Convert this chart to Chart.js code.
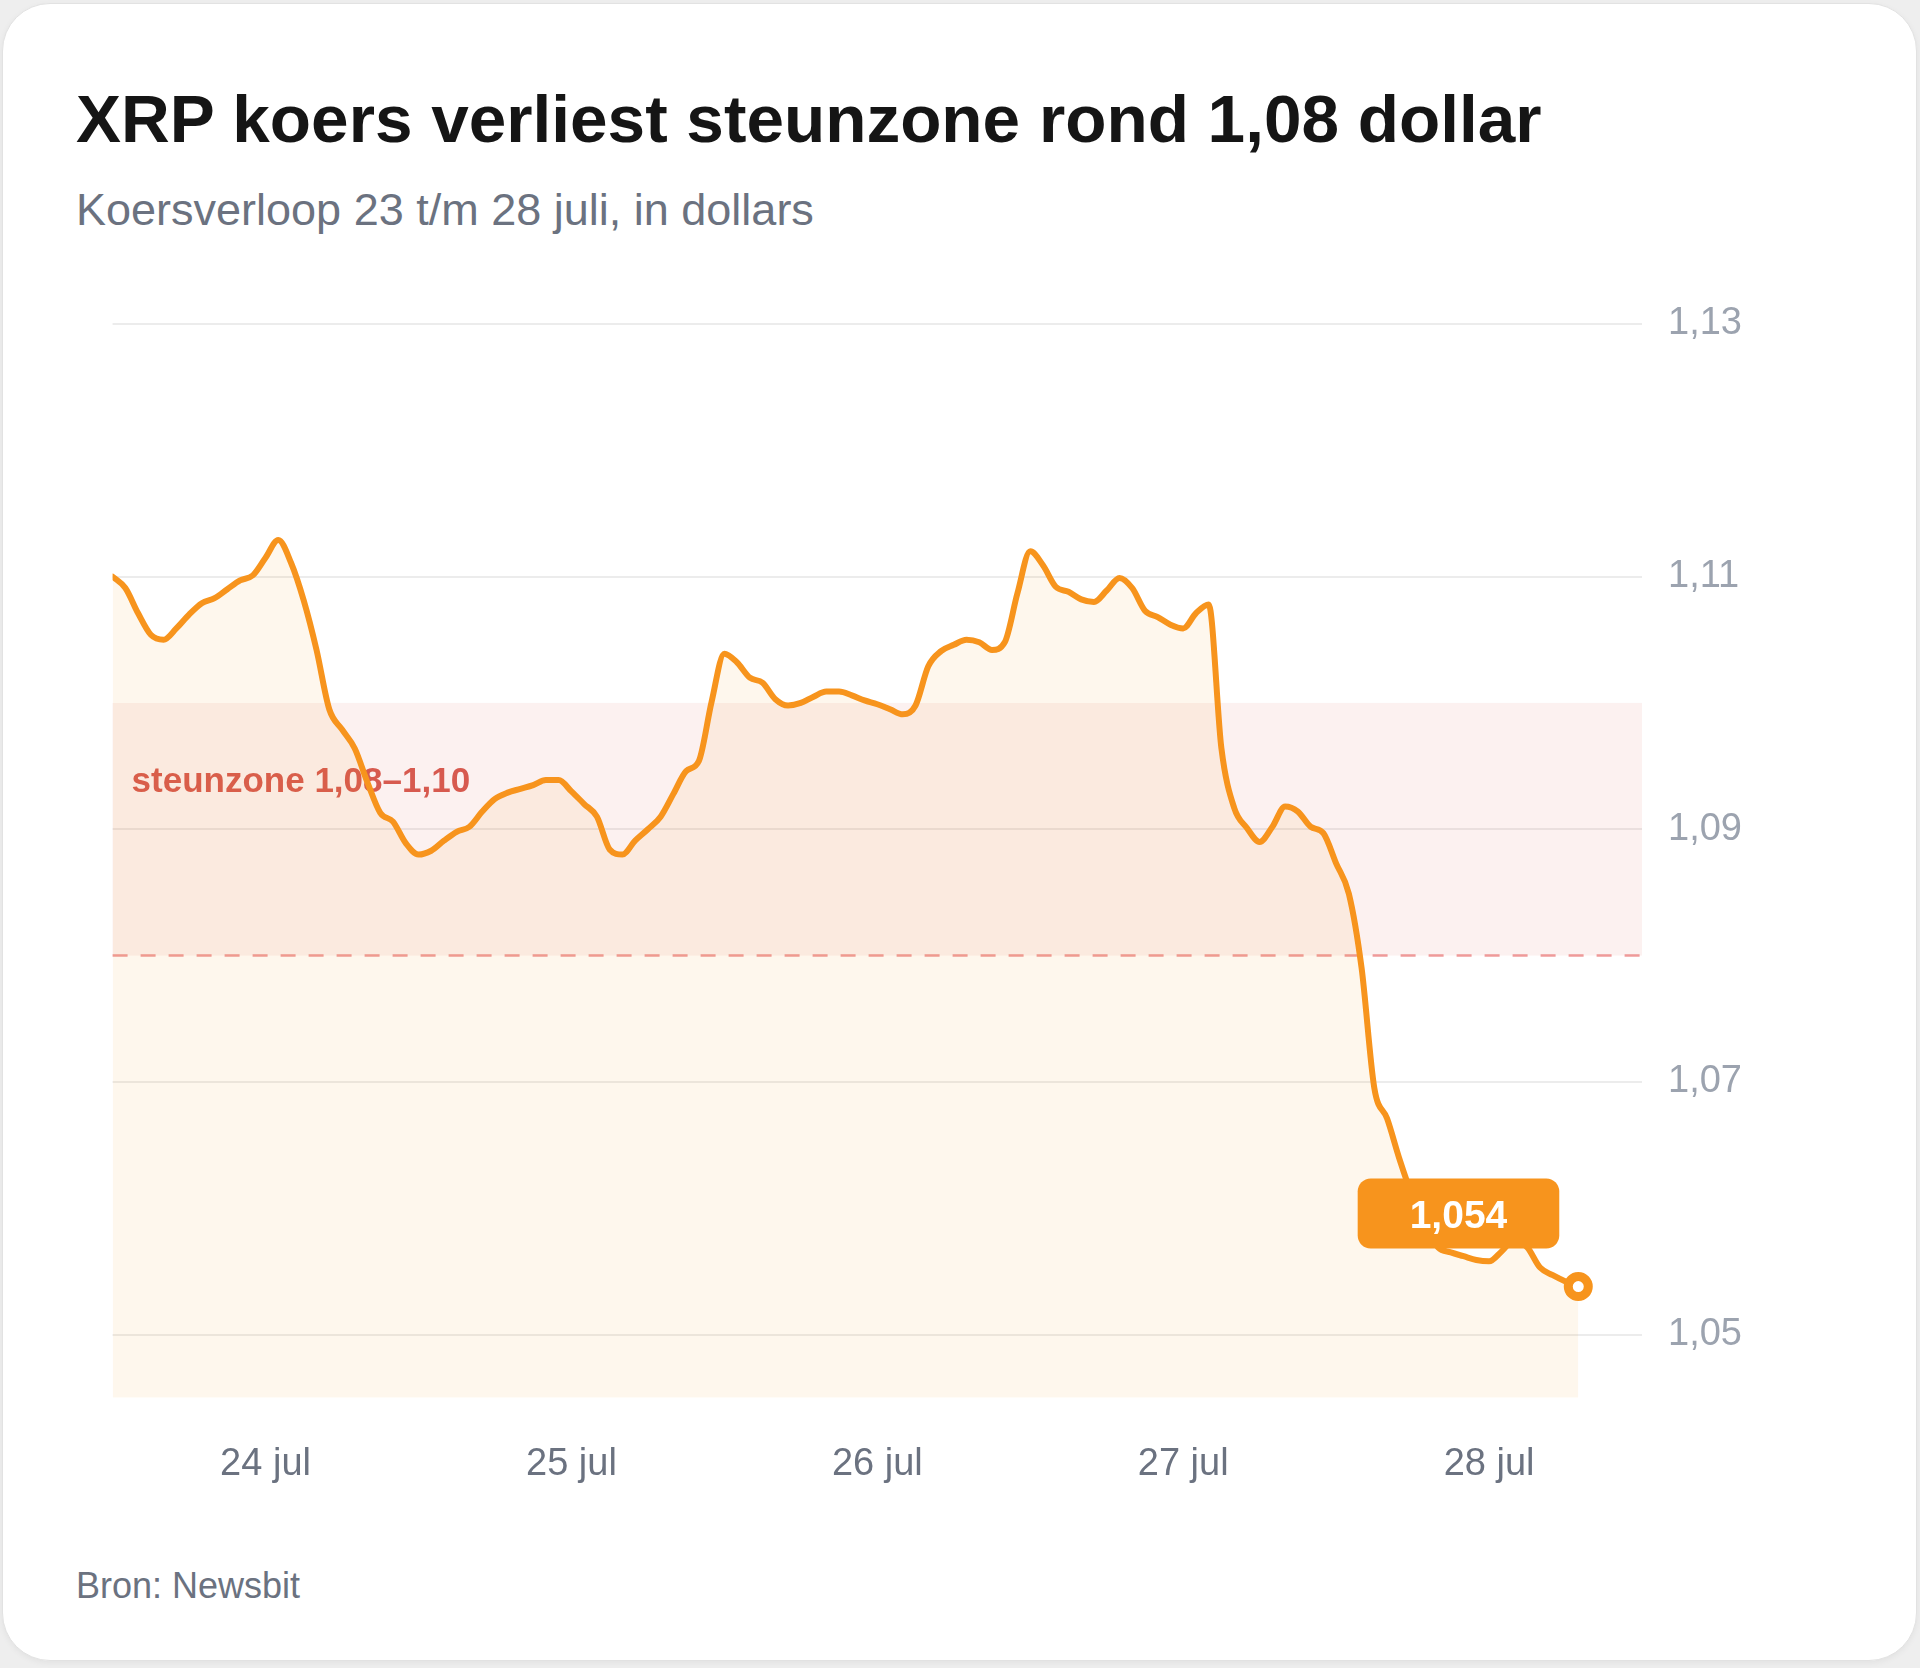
<!DOCTYPE html>
<html lang="nl">
<head>
<meta charset="utf-8">
<title>XRP koers verliest steunzone rond 1,08 dollar</title>
<script src="https://cdn.jsdelivr.net/npm/chart.js@4.4.1/dist/chart.umd.min.js"></script>
<style>
  html, body { margin: 0; padding: 0; }
  body {
    width: 1920px; height: 1668px; position: relative; overflow: hidden;
    background: #eeeeee;
    font-family: "Liberation Sans", Arial, sans-serif;
  }
  .card {
    position: absolute; left: 2px; top: 3px; width: 1915px; height: 1658px;
    background: #fff; border: 1px solid #e2e2e2; border-radius: 48px;
    box-sizing: border-box; box-shadow: 0 2px 6px rgba(0,0,0,0.05);
  }
  .txt { position: absolute; left: 76px; margin: 0; line-height: 1; white-space: nowrap; }
  h1.txt { top: 85px; font-size: 67.5px; font-weight: bold; color: #151515; }
  .sub { top: 187px; font-size: 45px; color: #6b7280; }
  .src { top: 1568px; font-size: 36px; color: #6b7280; }
  #wrap { position: absolute; left: 0; top: 0; width: 1920px; height: 1668px; }
</style>
</head>
<body>
<div class="card"></div>
<h1 class="txt">XRP koers verliest steunzone rond 1,08 dollar</h1>
<p class="txt sub">Koersverloop 23 t/m 28 juli, in dollars</p>
<p class="txt src">Bron: Newsbit</p>
<div id="wrap"><canvas id="chart"></canvas></div>

<script>
// uurkoersen vanaf 23 jul 12:00 (uur 12) t/m 28 jul 07:00 (uur 127)
const firstHour = 12;
const prices = [
  1.1100, 1.1091, 1.1071, 1.1054, 1.1050, 1.1059, 1.1070, 1.1079, 1.1083, 1.1090,
  1.1097, 1.1101, 1.1115, 1.1129, 1.1111, 1.1081, 1.1042, 1.0995, 1.0979, 1.0964,
  1.0937, 1.0913, 1.0906, 1.0889, 1.0880, 1.0883, 1.0891, 1.0898, 1.0902, 1.0914,
  1.0924, 1.0929, 1.0932, 1.0935, 1.0939, 1.0939, 1.0930, 1.0920, 1.0910, 1.0884,
  1.0880, 1.0891, 1.0900, 1.0910, 1.0928, 1.0946, 1.0954, 1.1001, 1.1039, 1.1032,
  1.1020, 1.1016, 1.1003, 1.0998, 1.1000, 1.1005, 1.1009, 1.1009, 1.1006, 1.1002,
  1.0999, 1.0995, 1.0991, 1.0998, 1.1029, 1.1041, 1.1046, 1.1050, 1.1048, 1.1042,
  1.1048, 1.1087, 1.1120, 1.1109, 1.1092, 1.1088, 1.1082, 1.1080, 1.1089, 1.1099,
  1.1091, 1.1073, 1.1068, 1.1062, 1.1059, 1.1071, 1.1078, 1.0964, 1.0917, 1.0901,
  1.0890, 1.0902, 1.0918, 1.0914, 1.0902, 1.0897, 1.0873, 1.0849, 1.0790, 1.0695,
  1.0671, 1.0638, 1.0609, 1.0586, 1.0569, 1.0565, 1.0562, 1.0559, 1.0558, 1.0566,
  1.0575, 1.0569, 1.0553, 1.0547, 1.0542, 1.0538
];

const dayHours = [24, 48, 72, 96, 120];
const dayLabels = ['24 jul', '25 jul', '26 jul', '27 jul', '28 jul'];
const yTicks = [1.05, 1.07, 1.09, 1.11, 1.13];

const zoneLow = 1.08;
const zoneHigh = 1.10;
const zoneLabel = 'steunzone 1,08\u20131,10';

const orange = '#f7941d';
const fontFamily = '"Liberation Sans", Arial, sans-serif';
Chart.defaults.font.family = fontFamily;

function nl(v, d) {
  return v.toFixed(d).replace('.', ',');
}

// steunzone: band, stippellijn en label onder de koerslijn
const zonePlugin = {
  id: 'zone',
  beforeDatasetsDraw(chart) {
    const { ctx, chartArea: a, scales: { y } } = chart;
    const top = y.getPixelForValue(zoneHigh);
    const bot = y.getPixelForValue(zoneLow);
    ctx.save();
    ctx.fillStyle = 'rgba(220, 80, 70, 0.08)';
    ctx.fillRect(a.left, top, a.right - a.left, bot - top);

    ctx.strokeStyle = 'rgba(228, 92, 92, 0.6)';
    ctx.lineWidth = 2.5;
    ctx.setLineDash([15, 13]);
    ctx.beginPath();
    ctx.moveTo(a.left, bot);
    ctx.lineTo(a.right, bot);
    ctx.stroke();
    ctx.setLineDash([]);

    ctx.fillStyle = '#d75a4f';
    ctx.font = 'bold 35px ' + fontFamily;
    ctx.textBaseline = 'alphabetic';
    ctx.textAlign = 'left';
    ctx.fillText(zoneLabel, a.left + 19, top + 89);
    ctx.restore();
  }
};

// label met de laatste koers
const badgePlugin = {
  id: 'badge',
  afterDatasetsDraw(chart) {
    const { ctx } = chart;
    const meta = chart.getDatasetMeta(0);
    const last = meta.data[meta.data.length - 1];
    const text = nl(prices[prices.length - 1], 3);
    ctx.save();
    ctx.font = 'bold 39px ' + fontFamily;
    const w = ctx.measureText(text).width + 104;
    const h = 70;
    const right = last.x - 19;
    const bottom = last.y - 38;
    ctx.fillStyle = orange;
    ctx.beginPath();
    ctx.roundRect(right - w, bottom - h, w, h, 13);
    ctx.fill();
    ctx.fillStyle = '#fff';
    ctx.textAlign = 'center';
    ctx.textBaseline = 'alphabetic';
    ctx.fillText(text, right - w / 2, bottom - 21);
    ctx.restore();
  }
};

new Chart(document.getElementById('chart'), {
  type: 'line',
  data: {
    datasets: [{
      data: prices.map((v, i) => ({ x: firstHour + i, y: v })),
      borderColor: orange,
      borderWidth: 6,
      borderJoinStyle: 'round',
      borderCapStyle: 'round',
      backgroundColor: 'rgba(247, 147, 26, 0.08)',
      fill: 'start',
      cubicInterpolationMode: 'monotone',
      pointRadius: c => c.dataIndex === prices.length - 1 ? 10 : 0,
      pointHoverRadius: 0,
      pointBorderWidth: 9,
      pointBackgroundColor: '#fff',
      pointBorderColor: orange
    }]
  },
  options: {
    responsive: true,
    maintainAspectRatio: false,
    animation: false,
    events: [],
    layout: { padding: { left: 112.6, top: 324, right: 128, bottom: 120.3 } },
    plugins: {
      legend: { display: false },
      tooltip: { enabled: false }
    },
    scales: {
      x: {
        type: 'linear',
        min: 12,
        max: 132,
        grid: { display: false },
        border: { display: false },
        afterBuildTicks: s => { s.ticks = dayHours.map(v => ({ value: v })); },
        afterFit: s => { s.height = 150; },
        ticks: {
          callback: (v, i) => dayLabels[i],
          color: '#6b7280',
          font: { size: 38 },
          padding: 36,
          maxRotation: 0,
          autoSkip: false
        }
      },
      y: {
        position: 'right',
        min: 1.045,
        max: 1.13,
        grid: { color: '#ececec', lineWidth: 2, drawTicks: false },
        border: { display: false },
        afterBuildTicks: s => { s.ticks = yTicks.map(v => ({ value: v })); },
        afterFit: s => { s.width = 150; },
        ticks: {
          callback: v => nl(v, 2),
          color: '#9ca3af',
          font: { size: 38 },
          padding: 26
        }
      }
    }
  },
  plugins: [zonePlugin, badgePlugin]
});
</script>
</body>
</html>
